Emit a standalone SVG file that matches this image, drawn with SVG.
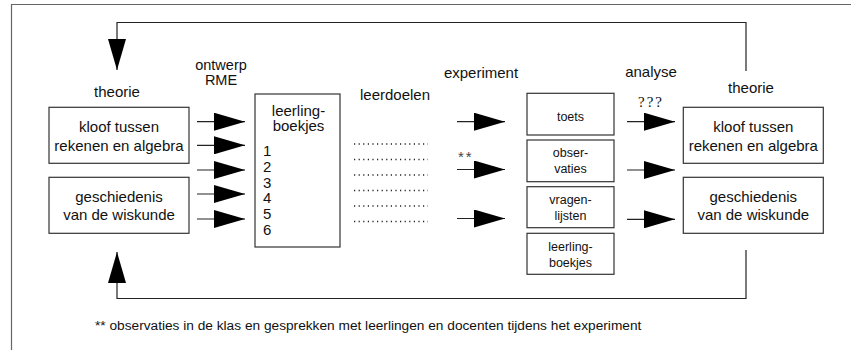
<svg xmlns="http://www.w3.org/2000/svg" width="851" height="350" viewBox="0 0 851 350">
<style>
text{font-family:"Liberation Sans",Arial,Helvetica,sans-serif;fill:#111;}
.t{font-size:15px;text-anchor:middle;}
.s{font-size:12.5px;text-anchor:middle;}
.box{fill:#fff;stroke:#333;stroke-width:1.2;}
.ln{fill:none;stroke:#222;stroke-width:1.2;}
.dot{fill:none;stroke:#222;stroke-width:1.3;stroke-dasharray:1.2 3.4;}
</style>
<defs>
<marker id="ah" markerUnits="userSpaceOnUse" markerWidth="31" markerHeight="18" viewBox="0 0 31 18" refX="31" refY="9" orient="auto">
<path d="M0,0 L31,9 L0,18 Z" fill="#000"/>
</marker>
</defs>
<path d="M851,4.5 H11.5 V350" fill="none" stroke="#666" stroke-width="1.2"/>
<g id="connectors">
<path class="ln" d="M746,71 V22.5 H117 V70" marker-end="url(#ah)"/>
<path class="ln" d="M746,250 V298.5 H117 V252" marker-end="url(#ah)"/>
<line class="ln" x1="197" y1="121.7" x2="245" y2="121.7" marker-end="url(#ah)"/>
<line class="ln" x1="197" y1="145.3" x2="245" y2="145.3" marker-end="url(#ah)"/>
<line class="ln" x1="197" y1="170" x2="245" y2="170" marker-end="url(#ah)"/>
<line class="ln" x1="197" y1="194" x2="245" y2="194" marker-end="url(#ah)"/>
<line class="ln" x1="197" y1="219" x2="245" y2="219" marker-end="url(#ah)"/>
<line class="ln" x1="457" y1="121.7" x2="505" y2="121.7" marker-end="url(#ah)"/>
<line class="ln" x1="457" y1="169.5" x2="505" y2="169.5" marker-end="url(#ah)"/>
<line class="ln" x1="457" y1="218.5" x2="505" y2="218.5" marker-end="url(#ah)"/>
<line class="ln" x1="627" y1="121.7" x2="675" y2="121.7" marker-end="url(#ah)"/>
<line class="ln" x1="627" y1="170" x2="675" y2="170" marker-end="url(#ah)"/>
<line class="ln" x1="627" y1="219.3" x2="675" y2="219.3" marker-end="url(#ah)"/>
</g>
<g id="labels">
<text class="t" x="117" y="97">theorie</text>
<text class="t" x="221" y="70" style="font-size:14.5px">ontwerp</text>
<text class="t" x="221" y="85" style="font-size:14.5px">RME</text>
<text class="t" x="395" y="99.5">leerdoelen</text>
<text class="t" x="481" y="78">experiment</text>
<text class="t" x="651" y="76.5">analyse</text>
<text class="t" x="751" y="93">theorie</text>
<text x="458" y="162" style="font-size:15px;letter-spacing:2px;fill:#444">**</text>
<text x="638" y="106.5" style="font-family:'Liberation Serif','Times New Roman',serif;font-size:15px;letter-spacing:2px">???</text>
</g>
<g id="node-kloof-links">
<rect class="box" x="49" y="107.3" width="140" height="56"/>
<text class="t" x="119" y="131.5">kloof tussen</text>
<text class="t" x="119" y="150.5">rekenen en algebra</text>
</g>
<g id="node-geschiedenis-links">
<rect class="box" x="49" y="177.3" width="140" height="56"/>
<text class="t" x="119" y="201.5">geschiedenis</text>
<text class="t" x="119" y="219.5">van de wiskunde</text>
</g>
<g id="node-leerlingboekjes">
<rect class="box" x="255" y="94" width="85" height="153"/>
<text class="t" x="298.5" y="115.5">leerling-</text>
<text class="t" x="298.5" y="131">boekjes</text>
<text x="263" y="156" style="font-size:15px">1</text>
<text x="263" y="171.8" style="font-size:15px">2</text>
<text x="263" y="187.6" style="font-size:15px">3</text>
<text x="263" y="203.4" style="font-size:15px">4</text>
<text x="263" y="219.2" style="font-size:15px">5</text>
<text x="263" y="235" style="font-size:15px">6</text>
</g>
<g id="leerdoelen-dots">
<line class="dot" x1="354" y1="144" x2="428" y2="144"/>
<line class="dot" x1="354" y1="159.5" x2="428" y2="159.5"/>
<line class="dot" x1="354" y1="175" x2="428" y2="175"/>
<line class="dot" x1="354" y1="190.5" x2="428" y2="190.5"/>
<line class="dot" x1="354" y1="206" x2="428" y2="206"/>
<line class="dot" x1="354" y1="221.5" x2="428" y2="221.5"/>
</g>
<g id="node-toets">
<rect class="box" x="527" y="93.3" width="87" height="41.7"/>
<text class="s" x="570.5" y="121">toets</text>
</g>
<g id="node-observaties">
<rect class="box" x="527" y="140" width="87" height="41.7"/>
<text class="s" x="570.5" y="157">obser-</text>
<text class="s" x="570.5" y="173">vaties</text>
</g>
<g id="node-vragenlijsten">
<rect class="box" x="527" y="186.7" width="87" height="41"/>
<text class="s" x="570.5" y="204">vragen-</text>
<text class="s" x="570.5" y="220">lijsten</text>
</g>
<g id="node-leerlingboekjes-2">
<rect class="box" x="527" y="233.3" width="87" height="41"/>
<text class="s" x="570.5" y="250.5">leerling-</text>
<text class="s" x="570.5" y="266.5">boekjes</text>
</g>
<g id="node-kloof-rechts">
<rect class="box" x="683.3" y="107.3" width="140" height="56"/>
<text class="t" x="753.3" y="131.5">kloof tussen</text>
<text class="t" x="753.3" y="150.5">rekenen en algebra</text>
</g>
<g id="node-geschiedenis-rechts">
<rect class="box" x="683.3" y="177.3" width="140" height="56"/>
<text class="t" x="753.3" y="201.5">geschiedenis</text>
<text class="t" x="753.3" y="219.5">van de wiskunde</text>
</g>
<text x="95" y="330" style="font-size:13.7px">** observaties in de klas en gesprekken met leerlingen en docenten tijdens het experiment</text>
</svg>
